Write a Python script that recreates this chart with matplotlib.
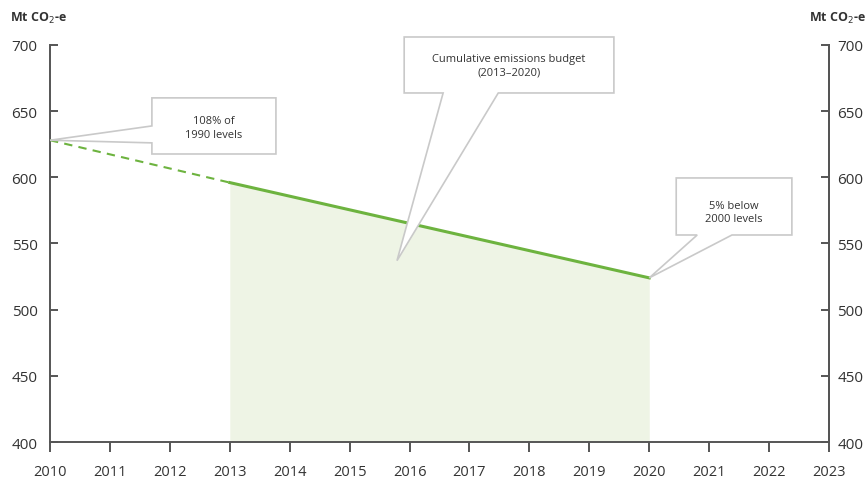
import matplotlib.pyplot as plt
from matplotlib.patches import Polygon

# emissions trajectory (Mt CO2-e)
years_dashed = [2010, 2013]
vals_dashed = [628, 596]
years_solid = [2013, 2020]
vals_solid = [596, 524]
x_ticks = list(range(2010, 2024))
y_ticks = [400, 450, 500, 550, 600, 650, 700]

green = '#6db33f'
fill_green = '#eef4e5'
grey_txt = '#333333'
box_edge = '#c9c9c9'

plt.rcParams['font.family'] = ['Open Sans', 'DejaVu Sans']

fig = plt.figure(figsize=(8.67, 4.81), dpi=100)
ax = fig.add_axes([0.0577, 0.079, 0.8985, 0.8255])

ax.fill_between(years_solid, vals_solid, 400, color=fill_green, lw=0, zorder=1)
ax.plot(years_dashed, vals_dashed, color=green, lw=1.5, ls=(0, (4, 3)), zorder=3)
ax.plot(years_solid, vals_solid, color=green, lw=2.2, zorder=3)

ax.set_xlim(2010, 2023)
ax.set_ylim(400, 700)
ax.set_xticks(x_ticks)
ax.set_yticks(y_ticks)

for s in ['left', 'right', 'bottom']:
    ax.spines[s].set_color('#555555')
    ax.spines[s].set_linewidth(1.4)
ax.spines['top'].set_visible(False)

ax.tick_params(axis='y', direction='in', length=6, width=1.4, color='#555555',
               labelsize=11, labelcolor=grey_txt, pad=9)
ax.tick_params(axis='x', direction='out', length=7, width=1.4, color='#555555',
               labelsize=10.5, labelcolor=grey_txt, pad=9)

# right-hand axis repeats the scale
ax2 = ax.twinx()
ax2.set_ylim(400, 700)
ax2.set_yticks(y_ticks)
for s in ['left', 'top', 'bottom']:
    ax2.spines[s].set_visible(False)
ax2.spines['right'].set_color('#555555')
ax2.spines['right'].set_linewidth(1.4)
ax2.tick_params(axis='y', direction='in', length=6, width=1.4, color='#555555',
                labelsize=11, labelcolor=grey_txt, pad=6)

fig.text(0.012, 0.962, 'Mt CO$_2$-e', fontsize=9, fontweight='bold',
         color=grey_txt, ha='left', va='center')
fig.text(0.999, 0.962, 'Mt CO$_2$-e', fontsize=9, fontweight='bold',
         color=grey_txt, ha='right', va='center')


def callout(verts, text, tx, ty):
    poly = Polygon(verts, closed=True, facecolor='white', edgecolor=box_edge,
                   lw=1.2, zorder=5, clip_on=False)
    ax.add_patch(poly)
    ax.text(tx, ty, text, ha='center', va='center', fontsize=8,
            color=grey_txt, zorder=6, linespacing=1.35)


# "108% of 1990 levels" box with pointer to 2010 value
bx0, bx1, by0, by1 = 2011.70, 2013.77, 617.6, 660
callout([(bx0, by1), (bx1, by1), (bx1, by0), (bx0, by0), (bx0, 626.0),
         (years_dashed[0], vals_dashed[0]), (bx0, 638.8)],
        '108% of\n1990 levels', (bx0 + bx1) / 2, 637.7)

# cumulative budget box, pointer into shaded area
bx0, bx1, by0, by1 = 2015.91, 2019.41, 663.7, 706
callout([(bx0, by1), (bx1, by1), (bx1, by0), (2017.48, by0),
         (2015.79, 537), (2016.56, by0), (bx0, by0)],
        'Cumulative emissions budget\n(2013\u20132020)', (bx0 + bx1) / 2, 684.5)

# "5% below 2000 levels" box with pointer to 2020 value
bx0, bx1, by0, by1 = 2020.45, 2022.38, 556.4, 599.5
callout([(bx0, by1), (bx1, by1), (bx1, by0), (2021.38, by0),
         (years_solid[1], vals_solid[1]), (2020.80, by0), (bx0, by0)],
        '5% below\n2000 levels', (bx0 + bx1) / 2, 573.8)

fig.savefig('out.png', dpi=100)
